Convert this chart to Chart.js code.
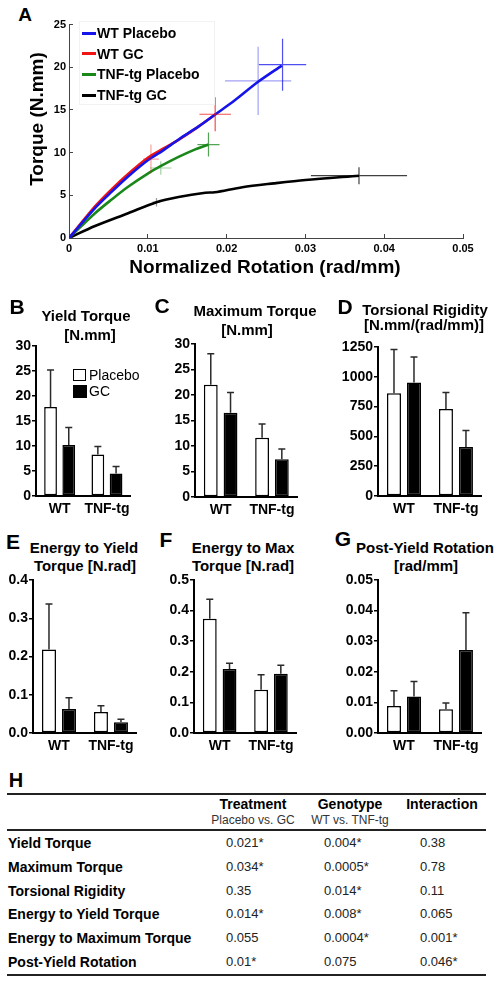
<!DOCTYPE html>
<html lang="en">
<head>
<meta charset="UTF-8">
<title>Torsion testing</title>
<script src="https://cdn.jsdelivr.net/npm/chart.js@4.4.0/dist/chart.umd.min.js"></script>
<style>
    body { margin: 0; background: #fff; font-family: "Liberation Sans", Arial, sans-serif; color: #000; }
    #page { position: relative; width: 502px; height: 982px; overflow: hidden; }
    canvas { position: absolute; }
    .c, .l { position: absolute; white-space: nowrap; line-height: 1.15; }
    .c { transform: translate(-50%, -50%); text-align: center; }
    .l { transform: translateY(-50%); }
    .b { font-weight: bold; }
    .ttl { font-weight: bold; font-size: 15px; }
    .let { font-weight: bold; font-size: 21px; }
    .hr { position: absolute; left: 7px; width: 479px; background: #222; }
</style>
</head>
<body>
<div id="page">
    <!-- panel A -->
    <div class="c let" style="left:25px;top:15px;font-size:19px">A</div>
    <canvas id="cA" width="449" height="247" style="left:39px;top:11px"></canvas>
    <div class="c b" style="left:37px;top:119px;font-size:19px;transform:translate(-50%,-50%) rotate(-90deg)">Torque (N.mm)</div>
    <div class="c b" style="left:265px;top:267px;font-size:19px">Normalized Rotation (rad/mm)</div>
    <div id="legA"></div>

    <!-- row 1 -->
    <div class="c let" style="left:17px;top:307px">B</div>
    <div class="c ttl" style="left:86px;top:316px">Yield Torque</div>
    <div class="c ttl" style="left:90px;top:335px">[N.mm]</div>
    <div class="c let" style="left:162px;top:306px">C</div>
    <div class="c ttl" style="left:255px;top:311px">Maximum Torque</div>
    <div class="c ttl" style="left:247px;top:330px">[N.mm]</div>
    <div class="c let" style="left:345px;top:307px">D</div>
    <div class="c ttl" style="left:425px;top:310px">Torsional Rigidity</div>
    <div class="c ttl" style="left:424px;top:325px">[N.mm/(rad/mm)]</div>
    <canvas id="cB" width="134" height="186" style="left:1px;top:336px"></canvas>
    <canvas id="cC" width="132" height="189" style="left:168px;top:334px"></canvas>
    <canvas id="cD" width="148" height="185" style="left:336px;top:337px"></canvas>
    <div style="position:absolute;left:73px;top:369px;width:11px;height:10px;border:1.5px solid #000;background:#fff"></div>
    <div style="position:absolute;left:73px;top:385px;width:14px;height:13px;background:#000"></div>
    <div class="l" style="left:89px;top:375px;font-size:14px">Placebo</div>
    <div class="l" style="left:89px;top:391px;font-size:14px">GC</div>

    <!-- row 2 -->
    <div class="c let" style="left:13px;top:542px">E</div>
    <div class="c ttl" style="left:84px;top:548px">Energy to Yield</div>
    <div class="c ttl" style="left:85px;top:566px">Torque [N.rad]</div>
    <div class="c let" style="left:166px;top:540px">F</div>
    <div class="c ttl" style="left:243px;top:548px">Energy to Max</div>
    <div class="c ttl" style="left:243px;top:566px">Torque [N.rad]</div>
    <div class="c let" style="left:343px;top:539px">G</div>
    <div class="c ttl" style="left:425px;top:548px">Post-Yield Rotation</div>
    <div class="c ttl" style="left:426px;top:566px">[rad/mm]</div>
    <canvas id="cE" width="137" height="189" style="left:2px;top:570px"></canvas>
    <canvas id="cF" width="135" height="189" style="left:164px;top:570px"></canvas>
    <canvas id="cG" width="144" height="189" style="left:340px;top:570px"></canvas>

    <!-- panel H -->
    <div class="c let" style="left:16px;top:780px;font-size:20px">H</div>
    <div class="hr" style="top:793px;height:1.5px"></div>
    <div class="hr" style="top:829px;height:1.5px"></div>
    <div class="hr" style="top:974px;height:2px"></div>
    <div id="tbl"></div>
</div>

<script>
    // ---- panel A: torque vs normalized rotation ----
    const rotWtPlacebo = [0, 0.0033, 0.0054, 0.0075, 0.010, 0.012, 0.014, 0.0165, 0.0186, 0.021, 0.024, 0.027]
    const torWtPlacebo = [0, 3.5, 5.4, 7.2, 9.1, 10.3, 11.6, 13.1, 14.5, 16.1, 18.3, 20.2]
    const rotWtGC = [0, 0.0033, 0.0054, 0.0075, 0.010, 0.012, 0.0139, 0.0162, 0.0186]
    const torWtGC = [0, 3.7, 5.7, 7.5, 9.4, 10.5, 11.5, 12.9, 14.5]
    const rotTnfPlacebo = [0, 0.0033, 0.0054, 0.0075, 0.0101, 0.0118, 0.0139, 0.0158, 0.0177]
    const torTnfPlacebo = [0, 2.9, 4.5, 6.0, 7.6, 8.5, 9.5, 10.3, 10.95]
    const rotTnfGC = [0, 0.0033, 0.0075, 0.0111, 0.0139, 0.0173, 0.0185, 0.022, 0.026, 0.030, 0.0368]
    const torTnfGC = [0, 1.4, 2.9, 4.2, 4.8, 5.3, 5.35, 5.95, 6.4, 6.8, 7.3]
    // error crosses [rotation, torque, rotation sd, torque sd] for yield and max points
    const crossWtPlacebo = [[0.024, 18.4, 0.0042, 4.0], [0.0271, 20.3, 0.0030, 3.05]]
    const crossWtGC = [[0.0104, 9.25, 0.0010, 1.7], [0.01855, 14.5, 0.0020, 2.0]]
    const crossTnfPlacebo = [[0.01165, 8.2, 0.00135, 0.8], [0.0177, 10.95, 0.0014, 1.4]]
    const crossTnfGC = [[0.0111, 4.2, 0.0005, 0.5], [0.0368, 7.3, 0.0061, 1.0]]
    const seriesNames = ['WT Placebo', 'WT GC', 'TNF-tg Placebo', 'TNF-tg GC']

    // ---- panels B-G: group means and SD ----
    const groups = ['WT', 'TNF-tg']
    const yieldPlacebo = [17.8, 8.3], yieldPlaceboSd = [7.4, 1.6]
    const yieldGC = [10.2, 4.5], yieldGCSd = [3.5, 1.4]
    const maxPlacebo = [22.0, 11.6], maxPlaceboSd = [6.1, 2.7]
    const maxGC = [16.5, 7.4], maxGCSd = [4.0, 2.0]
    const rigPlacebo = [863, 729], rigPlaceboSd = [365, 140]
    const rigGC = [953, 412], rigGCSd = [213, 137]
    const eyPlacebo = [0.218, 0.055], eyPlaceboSd = [0.119, 0.016]
    const eyGC = [0.063, 0.028], eyGCSd = [0.029, 0.008]
    const emPlacebo = [0.373, 0.141], emPlaceboSd = [0.064, 0.049]
    const emGC = [0.209, 0.194], emGCSd = [0.019, 0.027]
    const pyPlacebo = [0.0088, 0.0078], pyPlaceboSd = [0.005, 0.002]
    const pyGC = [0.0119, 0.0271], pyGCSd = [0.0049, 0.0122]

    // ---- panel H: p values ----
    const params = ['Yield Torque', 'Maximum Torque', 'Torsional Rigidity', 'Energy to Yield Torque', 'Energy to Maximum Torque', 'Post-Yield Rotation']
    const pTreatment = ['0.021*', '0.034*', '0.35', '0.014*', '0.055', '0.01*']
    const pGenotype = ['0.004*', '0.0005*', '0.014*', '0.008*', '0.0004*', '0.075']
    const pInteraction = ['0.38', '0.78', '0.11', '0.065', '0.001*', '0.046*']

    const colors = ['rgb(20,20,235)', 'rgb(240,20,20)', 'rgb(25,135,25)', 'rgb(0,0,0)']
    const crossAlpha = [0.4, 0.75]

    Chart.defaults.font.family = '"Liberation Sans", Arial, sans-serif'
    Chart.defaults.color = '#000'

    const crossPlugin = {
        id: 'crosses',
        afterDatasetsDraw(chart) {
            const ctx = chart.ctx, sx = chart.scales.x, sy = chart.scales.y
            chart.data.datasets.forEach(ds => {
                ds.crosses.forEach((c, i) => {
                    ctx.save()
                    ctx.strokeStyle = ds.borderColor
                    ctx.globalAlpha = crossAlpha[i]
                    ctx.lineWidth = 1.2
                    ctx.beginPath()
                    ctx.moveTo(sx.getPixelForValue(c[0] - c[2]), sy.getPixelForValue(c[1]))
                    ctx.lineTo(sx.getPixelForValue(c[0] + c[2]), sy.getPixelForValue(c[1]))
                    ctx.moveTo(sx.getPixelForValue(c[0]), sy.getPixelForValue(c[1] - c[3]))
                    ctx.lineTo(sx.getPixelForValue(c[0]), sy.getPixelForValue(c[1] + c[3]))
                    ctx.stroke()
                    ctx.restore()
                })
            })
        }
    }

    function curve(i, rot, tor, crosses) {
        return {
            label: seriesNames[i],
            data: rot.map((r, k) => ({ x: r, y: tor[k] })),
            crosses: crosses,
            showLine: true,
            borderColor: colors[i],
            borderWidth: 2.6,
            pointRadius: 0,
            tension: 0.3
        }
    }

    new Chart(document.getElementById('cA'), {
        type: 'scatter',
        data: {
            datasets: [
                curve(0, rotWtPlacebo, torWtPlacebo, crossWtPlacebo),
                curve(1, rotWtGC, torWtGC, crossWtGC),
                curve(2, rotTnfPlacebo, torTnfPlacebo, crossTnfPlacebo),
                curve(3, rotTnfGC, torTnfGC, crossTnfGC)
            ]
        },
        options: {
            responsive: false,
            animation: false,
            layout: { padding: { top: 10, right: 25, left: 0, bottom: 0 } },
            plugins: { legend: { display: false }, tooltip: { enabled: false } },
            scales: {
                x: {
                    type: 'linear', min: 0, max: 0.05,
                    grid: { drawOnChartArea: false, tickLength: -4, color: '#444' },
                    border: { color: '#444', width: 1 },
                    ticks: { stepSize: 0.01, padding: 8, font: { size: 11, weight: 'bold' }, callback: v => v === 0 ? '0' : v.toFixed(2) },
                    afterFit: s => { s.height = 20 }
                },
                y: {
                    min: 0, max: 25,
                    grid: { drawOnChartArea: false, tickLength: -4, color: '#444' },
                    border: { color: '#444', width: 1 },
                    ticks: { stepSize: 5, padding: 7, font: { size: 11, weight: 'bold' } },
                    afterFit: s => { s.width = 30 }
                }
            }
        },
        plugins: [crossPlugin]
    })

    // legend of panel A
    let leg = '<div style="position:absolute;left:79px;top:21px;width:134px;height:82px;border:1px solid #f2f2f2"></div>'
    seriesNames.forEach((n, i) => {
        let y = 33 + i * 20.7
        leg += '<div style="position:absolute;left:82px;top:' + (y - 1.5) + 'px;width:14px;height:3px;background:' + colors[i] + '"></div>'
        leg += '<div class="l b" style="left:97px;top:' + y + 'px;font-size:14px">' + n + '</div>'
    })
    document.getElementById('legA').innerHTML = leg

    const errPlugin = {
        id: 'errbars',
        afterDatasetsDraw(chart) {
            const ctx = chart.ctx, sy = chart.scales.y
            chart.data.datasets.forEach((ds, di) => {
                chart.getDatasetMeta(di).data.forEach((bar, i) => {
                    const top = sy.getPixelForValue(ds.data[i] + ds.errors[i])
                    ctx.save()
                    ctx.strokeStyle = '#2a2a2a'
                    ctx.lineWidth = 1.5
                    ctx.beginPath()
                    ctx.moveTo(bar.x, bar.y)
                    ctx.lineTo(bar.x, top)
                    ctx.moveTo(bar.x - 3.5, top)
                    ctx.lineTo(bar.x + 3.5, top)
                    ctx.stroke()
                    ctx.restore()
                })
            })
        }
    }

    function barChart(id, placebo, placeboSd, gc, gcSd, yMax, step, dec, yw) {
        new Chart(document.getElementById(id), {
            type: 'bar',
            data: {
                labels: groups,
                datasets: [{
                    label: 'Placebo', data: placebo, errors: placeboSd,
                    backgroundColor: '#fff', borderColor: '#000', borderWidth: 1.5, borderSkipped: false,
                    categoryPercentage: 0.77, barPercentage: 0.7
                }, {
                    label: 'GC', data: gc, errors: gcSd,
                    backgroundColor: '#000', borderColor: '#000', borderWidth: 1.5, borderSkipped: false,
                    categoryPercentage: 0.77, barPercentage: 0.7
                }]
            },
            options: {
                responsive: false,
                animation: false,
                layout: { padding: { top: 10, right: 2, left: 0, bottom: 0 } },
                plugins: { legend: { display: false }, tooltip: { enabled: false } },
                scales: {
                    x: {
                        grid: { display: false, drawTicks: false },
                        border: { color: '#000', width: 2 },
                        ticks: { padding: 5, autoSkip: false, maxRotation: 0, minRotation: 0, font: { size: 14, weight: 'bold' } },
                        afterFit: s => { s.height = 26 }
                    },
                    y: {
                        min: 0, max: yMax,
                        grid: { drawOnChartArea: false, tickLength: 4, color: '#000', lineWidth: 1.5 },
                        border: { color: '#000', width: 2 },
                        ticks: { stepSize: step, padding: 1, font: { size: 14, weight: 'bold' }, callback: v => v.toFixed(dec) },
                        afterFit: s => { s.width = yw }
                    }
                }
            },
            plugins: [errPlugin]
        })
    }

    barChart('cB', yieldPlacebo, yieldPlaceboSd, yieldGC, yieldGCSd, 30, 5, 0, 35)
    barChart('cC', maxPlacebo, maxPlaceboSd, maxGC, maxGCSd, 30, 5, 0, 27)
    barChart('cD', rigPlacebo, rigPlaceboSd, rigGC, rigGCSd, 1250, 250, 0, 42)
    barChart('cE', eyPlacebo, eyPlaceboSd, eyGC, eyGCSd, 0.4, 0.1, 1, 31)
    barChart('cF', emPlacebo, emPlaceboSd, emGC, emGCSd, 0.5, 0.1, 1, 30)
    barChart('cG', pyPlacebo, pyPlaceboSd, pyGC, pyGCSd, 0.05, 0.01, 2, 38)

    // table H
    let t = ''
    t += '<div class="c b" style="left:253px;top:804px;font-size:14px">Treatment</div>'
    t += '<div class="c" style="left:253px;top:821px;font-size:12px;color:#333">Placebo vs. GC</div>'
    t += '<div class="c b" style="left:350px;top:804px;font-size:14px">Genotype</div>'
    t += '<div class="c" style="left:350px;top:821px;font-size:12px;color:#333">WT vs. TNF-tg</div>'
    t += '<div class="c b" style="left:442px;top:804px;font-size:14px">Interaction</div>'
    params.forEach((p, i) => {
        let y = 842.7 + i * 23.9
        t += '<div class="l b" style="left:8px;top:' + y + 'px;font-size:14px">' + p + '</div>'
        t += '<div class="l" style="left:226px;top:' + y + 'px;font-size:13px;color:#222">' + pTreatment[i] + '</div>'
        t += '<div class="l" style="left:324px;top:' + y + 'px;font-size:13px;color:#222">' + pGenotype[i] + '</div>'
        t += '<div class="l" style="left:420px;top:' + y + 'px;font-size:13px;color:#222">' + pInteraction[i] + '</div>'
    })
    document.getElementById('tbl').innerHTML = t
</script>
</body>
</html>
